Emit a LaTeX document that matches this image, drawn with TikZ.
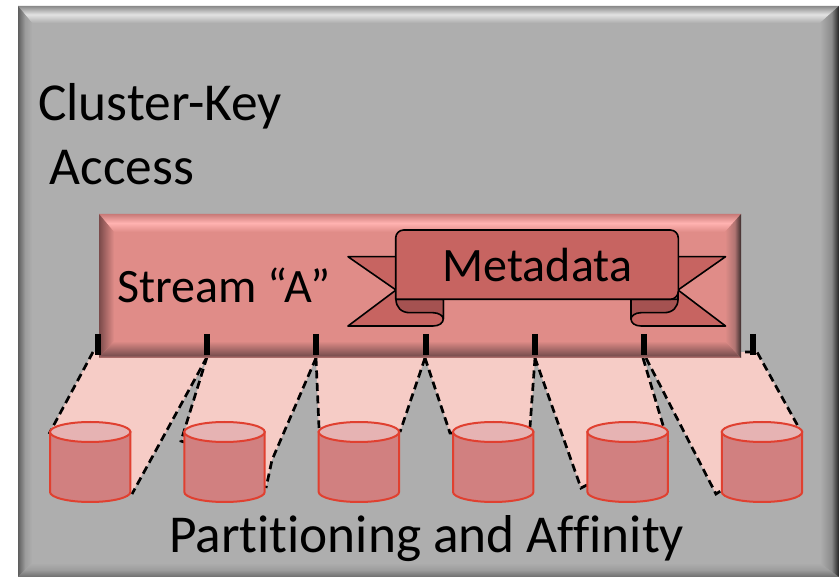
\documentclass[tikz,border=0pt]{standalone}
\usepackage{fontspec}
\setmainfont[RawFeature={-liga}]{Carlito}
\definecolor{baseG}{HTML}{AEAEAE}
\definecolor{hiG}{HTML}{E2E2E2}
\definecolor{edgeGT}{HTML}{8A8A8A}
\definecolor{edgeGB}{HTML}{6E6E6E}
\definecolor{edgeGL}{HTML}{5E5E5E}
\definecolor{edgeGR}{HTML}{222222}
\definecolor{midGB}{HTML}{9C9C9C}
\definecolor{midGR}{HTML}{8C8C8C}
\definecolor{baseR}{HTML}{E08C88}
\definecolor{hiR}{HTML}{FFB2B0}
\definecolor{edgeRT}{HTML}{C87A78}
\definecolor{edgeRB}{HTML}{C47A78}
\definecolor{darkRB}{HTML}{7C5050}
\definecolor{edgeRL}{HTML}{7A4A4A}
\definecolor{edgeRR}{HTML}{3A2C2C}
\definecolor{midRR}{HTML}{B07472}
\definecolor{ribbonmain}{HTML}{C76461}
\definecolor{ribbondark}{HTML}{A55251}
\definecolor{beam}{HTML}{F6CCC6}
\definecolor{cylbody}{HTML}{D18080}
\definecolor{cyltop}{HTML}{E6B3B3}
\definecolor{cylline}{HTML}{E04030}
\pgfdeclareverticalshading{gT}{100bp}{color(0bp)=(baseG);color(25bp)=(baseG);color(50bp)=(hiG);color(75bp)=(edgeGT);color(100bp)=(edgeGT)}
\pgfdeclareverticalshading{gB}{100bp}{color(0bp)=(edgeGB);color(25bp)=(edgeGB);color(50bp)=(midGB);color(75bp)=(baseG);color(100bp)=(baseG)}
\pgfdeclarehorizontalshading{gL}{100bp}{color(0bp)=(edgeGL);color(25bp)=(edgeGL);color(50bp)=(midGB);color(75bp)=(baseG);color(100bp)=(baseG)}
\pgfdeclarehorizontalshading{gR}{100bp}{color(0bp)=(baseG);color(25bp)=(baseG);color(55bp)=(midGR);color(75bp)=(edgeGR);color(100bp)=(edgeGR)}
\pgfdeclareverticalshading{rT}{100bp}{color(0bp)=(baseR);color(25bp)=(baseR);color(50bp)=(hiR);color(75bp)=(edgeRT);color(100bp)=(edgeRT)}
\pgfdeclareverticalshading{rB}{100bp}{color(0bp)=(edgeRB);color(25bp)=(edgeRB);color(33bp)=(darkRB);color(75bp)=(baseR);color(100bp)=(baseR)}
\pgfdeclarehorizontalshading{rL}{100bp}{color(0bp)=(edgeRL);color(25bp)=(edgeRL);color(75bp)=(baseR);color(100bp)=(baseR)}
\pgfdeclarehorizontalshading{rR}{100bp}{color(0bp)=(baseR);color(25bp)=(baseR);color(55bp)=(midRR);color(75bp)=(edgeRR);color(100bp)=(edgeRR)}
\tikzset{
  beamfill/.style={fill=beam,draw=none},
  beamedge/.style={draw=black,line width=2.7pt,dash pattern=on 8pt off 4.5pt},
  ribbonline/.style={draw=black,line width=1.6pt,line join=round},
  tickmark/.style={draw=black,line width=6.2pt},
  cylshape/.style={draw=cylline,line width=2pt},
  bigtext/.style={anchor=base west,inner sep=0pt,text=black},
}
\newcommand{\cylat}[1]{%
  \filldraw[cylshape,fill=cylbody] (#1,432) -- (#1,492) arc[start angle=180,end angle=360,x radius=40.2,y radius=-10] -- +(0,-60) -- cycle;
  \filldraw[cylshape,fill=cyltop] (#1+40.2,432) ellipse[x radius=40.2,y radius=10];
}
\begin{document}
\begin{tikzpicture}[x=1pt,y=-1pt]
\useasboundingbox (0,0) rectangle (839,577);
% outer panel
\fill[baseG] (18,6) rectangle (839,577);
\shade[shading=gT] (18,6) -- (839,6) -- (820,23) -- (32,23) -- cycle;
\shade[shading=gL] (18,6) -- (32,23) -- (32,563) -- (18,577) -- cycle;
\shade[shading=gB] (18,577) -- (32,563) -- (820,563) -- (839,577) -- cycle;
\shade[shading=gR] (839,6) -- (820,23) -- (820,563) -- (839,577) -- cycle;
% beams
\fill[beamfill] (93,352) -- (207,358) -- (132,493) -- (90,470) -- (49,434) -- cycle;
\fill[beamfill] (207,358) -- (316,358) -- (272,460) -- (266,487) -- (224,470) -- (182,441) -- cycle;
\fill[beamfill] (316,358) -- (425,358) -- (400,432) -- (319,432) -- cycle;
\fill[beamfill] (425,358) -- (535,358) -- (530,432) -- (453,434) -- (450,433) -- cycle;
\fill[beamfill] (535,358) -- (644,358) -- (668,442) -- (630,470) -- (587,487) -- (581,488) -- cycle;
\fill[beamfill] (646,358) -- (745,352) -- (757,352) -- (799,428) -- (760,470) -- (722,490) -- (716,494) -- cycle;
\draw[beamedge] (93,352) -- (49,434);
\draw[beamedge] (207,357) -- (132,494);
\draw[beamedge] (207,357) -- (181,441) -- (184,442);
\draw[beamedge] (316,358) -- (272,460) -- (266,488);
\draw[beamedge] (316,358) -- (319,428);
\draw[beamedge] (425,358) -- (400,432);
\draw[beamedge] (425,358) -- (450,433) -- (453,433);
\draw[beamedge] (535,358) -- (530,427);
\draw[beamedge] (535,358) -- (581,488) -- (587,485);
\draw[beamedge] (643,358) -- (668,442);
\draw[beamedge] (646,358) -- (716,494) -- (722,490);
\draw[beamedge] (745,352) -- (757,352) -- (799,428);
% cylinders
\cylat{50}
\cylat{184.3}
\cylat{318.7}
\cylat{453}
\cylat{587.4}
\cylat{721.8}
% stream bar
\fill[baseR] (99,214) rectangle (741,358);
\shade[shading=rT] (99,214) -- (741,214) -- (725,232) -- (114,232) -- cycle;
\shade[shading=rL] (99,214) -- (114,232) -- (114,341) -- (99,358) -- cycle;
\shade[shading=rB] (99,358) -- (114,341) -- (725,341) -- (741,358) -- cycle;
\shade[shading=rR] (741,214) -- (725,232) -- (725,341) -- (741,358) -- cycle;
% ribbon
\filldraw[ribbonline,fill=ribbonmain] (396,256.7) -- (348,256.7) -- (396,290) -- (348,326) -- (433,326) .. controls (439,326) and (443.3,323) .. (443.3,319) -- (443.3,300) -- (396,300) -- cycle;
\filldraw[ribbonline,fill=ribbonmain] (678,256.7) -- (725.5,256.7) -- (678,290) -- (725.5,326) -- (641,326) .. controls (635,326) and (631,323) .. (631,319) -- (631,300) -- (678,300) -- cycle;
\filldraw[ribbonline,fill=ribbondark] (396,299.3) .. controls (396,307) and (401,312.7) .. (410,312.7) -- (433,312.7) .. controls (439,312.7) and (443.3,316) .. (443.3,319) -- (443.3,299.3) -- cycle;
\filldraw[ribbonline,fill=ribbondark] (678,299.3) .. controls (678,307) and (673,312.7) .. (664,312.7) -- (641,312.7) .. controls (635,312.7) and (631,316) .. (631,319) -- (631,299.3) -- cycle;
\filldraw[ribbonline,fill=ribbonmain,rounded corners=8pt] (395.7,299.3) -- (395.7,230) -- (678.3,230) -- (678.3,299.3) [sharp corners] -- cycle;
% ticks
\foreach \tx in {98,207,316.3,425.8,535.3,644.3,753.3}
  \draw[tickmark] (\tx,334) -- (\tx,355);
% text
\node[bigtext,font=\fontsize{53.4}{53}\selectfont] (lblcluster) at (38,121) {Cluster-Key};
\node[bigtext,font=\fontsize{53.4}{53}\selectfont] (lblaccess) at (49.5,185) {Access};
\node[bigtext,font=\fontsize{48}{48}\selectfont] (lblstream) at (117.5,303) {Stream “A”};
\node[bigtext,font=\fontsize{48}{48}\selectfont] (lblmeta) at (442.5,281.5) {Metadata};
\node[bigtext,font=\fontsize{53.3}{53}\selectfont] (lblpart) at (169,552.5) {Partitioning and Affinity};
\end{tikzpicture}
\end{document}
